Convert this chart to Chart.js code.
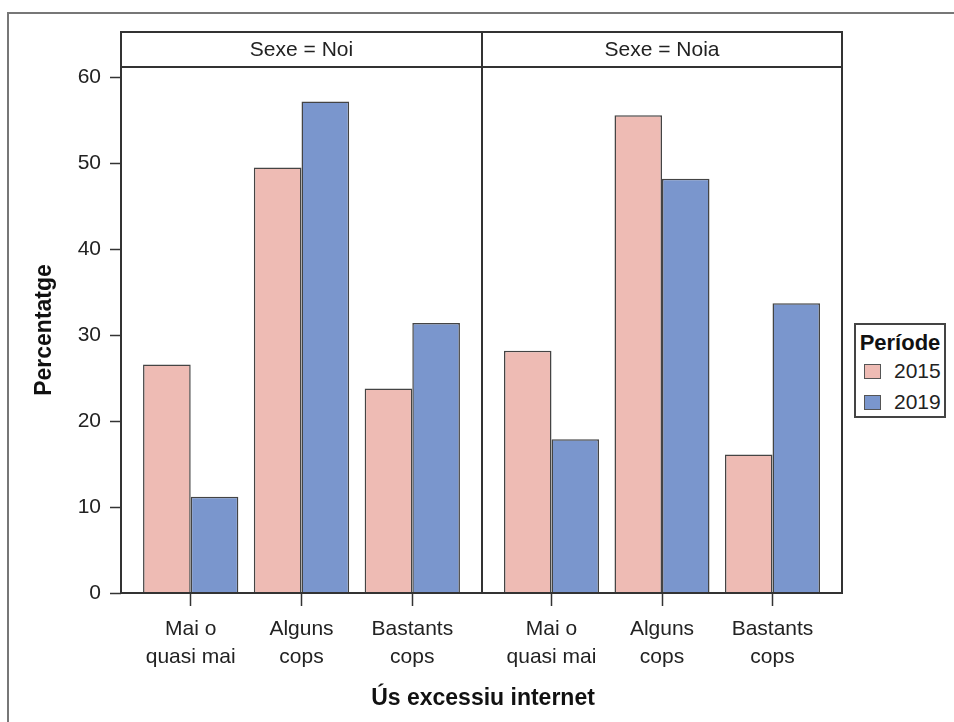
<!DOCTYPE html>
<html>
<head>
    <meta charset="utf-8" />
    <title>Ús excessiu internet</title>
    <script src="https://cdn.jsdelivr.net/npm/chart.js"></script>
    <style>
        body { margin: 0; background: #fff; width: 954px; height: 722px; overflow: hidden; position: relative; font-family: "Liberation Sans", Arial, sans-serif; color: #222; }
        #frame { position: absolute; left: 7px; top: 12px; width: 1000px; height: 1000px; border-left: 2px solid #777; border-top: 2px solid #777; }
        .panel { position: absolute; top: 30px; }
        #xtitle { position: absolute; left: 283px; width: 400px; top: 684px; text-align: center; font-weight: bold; font-size: 23px; color: #111; }
        #legend { position: absolute; left: 854px; top: 323px; width: 92px; height: 95px; border: 2px solid #444; box-sizing: border-box; }
        #legend .lt { position: absolute; left: 0; width: 100%; top: 5px; text-align: center; font-weight: bold; font-size: 22px; color: #111; }
        #legend .li { position: absolute; left: 8px; font-size: 21px; line-height: 24px; }
        #legend .sw { display: inline-block; width: 15px; height: 13px; border: 1.5px solid #555; vertical-align: -1px; margin-right: 13px; }
    </style>
</head>
<body>
    <div id="frame"></div>
    <div class="panel" style="left:0px"><canvas id="noi" width="484" height="692"></canvas></div>
    <div class="panel" style="left:480px"><canvas id="noia" width="366" height="692"></canvas></div>
    <div id="xtitle">Ús excessiu internet</div>
    <div id="legend"></div>

    <script>
        // dades
        const categories = [['Mai o', 'quasi mai'], ['Alguns', 'cops'], ['Bastants', 'cops']];
        const panels = ['Sexe = Noi', 'Sexe = Noia'];
        const periods = ['2015', '2019'];
        const noi2015 = [26.6, 49.5, 23.8];
        const noi2019 = [11.2, 57.2, 31.4];
        const noia2015 = [28.2, 55.6, 16.1];
        const noia2019 = [17.9, 48.2, 33.7];
        const yTicks = [0, 10, 20, 30, 40, 50, 60];

        const colors = ['#EEBBB4', '#7A96CD'];

        // marc del panell + franja superior
        const panelFrame = {
            id: 'panelFrame',
            afterDraw(chart, args, opts) {
                const a = chart.chartArea;
                const ctx = chart.ctx;
                ctx.save();
                ctx.lineWidth = 2;
                ctx.strokeStyle = '#333';
                ctx.fillStyle = '#fff';
                ctx.fillRect(a.left, a.top - 35, a.right - a.left, 35);
                ctx.strokeRect(a.left, a.top - 35, a.right - a.left, 35);
                ctx.strokeRect(a.left, a.top, a.right - a.left, a.bottom - a.top);
                ctx.fillStyle = '#222';
                ctx.font = '21px "Liberation Sans", Arial, sans-serif';
                ctx.textAlign = 'center';
                ctx.textBaseline = 'middle';
                ctx.fillText(opts.title, (a.left + a.right) / 2, a.top - 17);
                ctx.restore();
            }
        };

        function makePanel(id, title, v2015, v2019, showY) {
            const yScale = {
                min: 0,
                max: 61.2,
                display: showY,
                afterBuildTicks: s => { s.ticks = yTicks.map(v => ({ value: v })); },
                grid: { drawOnChartArea: false, tickLength: 11, tickColor: '#333', tickWidth: 1.5 },
                border: { display: false },
                ticks: { font: { size: 21 }, color: '#222', padding: 9 },
                title: {
                    display: true, text: 'Percentatge', color: '#111',
                    font: { size: 23, weight: 'bold' }, padding: { top: 31, bottom: 0 }
                }
            };
            if (showY) yScale.afterFit = s => { s.width = 121; };

            return new Chart(document.getElementById(id), {
                type: 'bar',
                data: {
                    datasets: [v2015, v2019].map((vals, i) => ({
                        label: periods[i],
                        data: vals.map((v, k) => ({ x: k, y: v })),
                        backgroundColor: colors[i],
                        borderColor: '#444',
                        borderWidth: 1.5,
                        categoryPercentage: 0.86,
                        barPercentage: 1.0
                    }))
                },
                options: {
                    responsive: false,
                    animation: false,
                    layout: { padding: showY ? { top: 37, right: 2, left: 0, bottom: 0 } : { top: 37, right: 4, left: 2, bottom: 0 } },
                    plugins: {
                        legend: { display: false },
                        tooltip: { enabled: false },
                        panelFrame: { title: title }
                    },
                    scales: {
                        x: {
                            type: 'linear',
                            min: -0.629,
                            max: 2.629,
                            offset: false,
                            afterBuildTicks: s => { s.ticks = [0, 1, 2].map(v => ({ value: v })); },
                            afterFit: s => { s.height = 129; },
                            grid: { offset: false, drawOnChartArea: false, tickLength: 13, tickColor: '#333', tickWidth: 1.5 },
                            border: { display: false },
                            ticks: {
                                callback: v => categories[v],
                                font: { size: 21, lineHeight: 1.33 },
                                color: '#222',
                                padding: 9,
                                maxRotation: 0,
                                autoSkip: false
                            }
                        },
                        y: yScale
                    }
                },
                plugins: [panelFrame]
            });
        }

        makePanel('noi', panels[0], noi2015, noi2019, true);
        makePanel('noia', panels[1], noia2015, noia2019, false);

        // llegenda
        let html = '<div class="lt">Període</div>';
        periods.forEach((p, i) => {
            html += `<div class="li" style="top:${34 + i * 31}px"><span class="sw" style="background:${colors[i]}"></span>${p}</div>`;
        });
        document.getElementById('legend').innerHTML = html;
    </script>
</body>
</html>
